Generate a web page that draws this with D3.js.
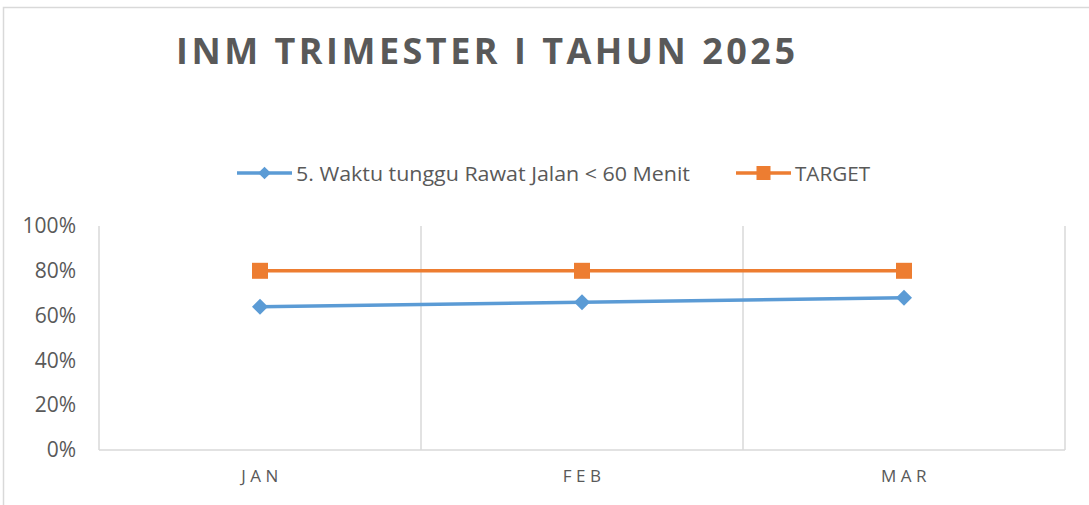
<!DOCTYPE html>
<html><head><meta charset="utf-8">
<script src="https://cdn.jsdelivr.net/npm/d3@7/dist/d3.min.js"></script>
<style>body{margin:0;background:#fff;} svg{display:block;}</style>
</head><body>
<svg id="chart" width="1089" height="505"></svg>
<script>
const title = "INM TRIMESTER I TAHUN 2025";
const categories = ["JAN", "FEB", "MAR"];
const seriesName = "5. Waktu tunggu Rawat Jalan < 60 Menit";
const seriesValues = [0.64, 0.66, 0.68];
const targetName = "TARGET";
const targetValues = [0.80, 0.80, 0.80];
const yTicks = [0, 0.2, 0.4, 0.6, 0.8, 1.0];

const svg = d3.select("#chart");
const W = 1089, H = 505;
const margin = {left: 99, right: 24, top: 226, bottom: 55};
const blue = "#5B9BD5", orange = "#ED7D31", txt = "#595959", grid = "#D9D9D9";
const font = "'Open Sans', sans-serif";

svg.append("rect").attr("x", 3.5).attr("y", 7.5).attr("width", W + 10).attr("height", H + 10)
  .attr("fill", "#fff").attr("stroke", grid).attr("stroke-width", 1.5);

const x = d3.scaleBand().domain(categories).range([margin.left, W - margin.right]).padding(0);
const y = d3.scaleLinear().domain([0, 1]).range([H - margin.bottom, margin.top]);

// vertical category gridlines
const bounds = [margin.left].concat(categories.map(c => x(c) + x.bandwidth()));
svg.append("g").selectAll("line").data(bounds).join("line")
  .attr("x1", d => d).attr("x2", d => d).attr("y1", y(1)).attr("y2", y(0))
  .attr("stroke", grid).attr("stroke-width", 1.5);

// x axis baseline
svg.append("line").attr("x1", margin.left).attr("x2", W - margin.right)
  .attr("y1", y(0)).attr("y2", y(0)).attr("stroke", grid).attr("stroke-width", 1.5);

// y axis
const yAxis = d3.axisLeft(y).tickValues(yTicks).tickFormat(d3.format(".0%")).tickSize(0).tickPadding(23);
const yg = svg.append("g").attr("transform", `translate(${margin.left},0)`).call(yAxis);
yg.select(".domain").remove();
yg.selectAll("text").attr("fill", txt).style("font-family", font).style("font-size", "21px");

// x axis labels
const xAxis = d3.axisBottom(x).tickSize(0).tickPadding(20);
const xg = svg.append("g").attr("transform", `translate(0,${y(0)})`).call(xAxis);
xg.select(".domain").remove();
xg.selectAll("text").attr("fill", txt).style("font-family", font).style("font-size", "17px")
  .style("letter-spacing", "4.5px").attr("dx", "2");

// title
svg.append("text").attr("x", 176).attr("y", 64).text(title)
  .attr("fill", txt).style("font-family", font).style("font-weight", "bold").style("font-size", "36px")
  .attr("textLength", 619).attr("lengthAdjust", "spacing");

const cx = d => x(d) + x.bandwidth() / 2;
const line = d3.line().x((d, i) => cx(categories[i])).y(d => y(d));

function drawSeries(vals, color, shape) {
  svg.append("path").datum(vals).attr("d", line).attr("fill", "none")
    .attr("stroke", color).attr("stroke-width", 3.5).attr("stroke-linecap", "round");
  const sym = d3.symbol().type(shape).size(shape === d3.symbolSquare ? 256 : 190);
  svg.append("g").selectAll("path").data(vals).join("path")
    .attr("transform", (d, i) => `translate(${cx(categories[i])},${y(d)})` + (shape === d3.symbolSquare ? "" : " rotate(45)"))
    .attr("d", shape === d3.symbolSquare ? sym() : d3.symbol().type(d3.symbolSquare).size(128)())
    .attr("fill", color);
}
drawSeries(targetValues, orange, d3.symbolSquare);
drawSeries(seriesValues, blue, d3.symbolDiamond);

// legend
const legend = [
  {name: seriesName, color: blue, shape: "diamond", x0: 237, w: 394},
  {name: targetName, color: orange, shape: "square", x0: 736, w: 75}
];
const ly = 173;
legend.forEach(l => {
  const g = svg.append("g");
  g.append("line").attr("x1", l.x0).attr("x2", l.x0 + 55).attr("y1", ly).attr("y2", ly)
    .attr("stroke", l.color).attr("stroke-width", 3.5);
  if (l.shape === "square") {
    g.append("rect").attr("x", l.x0 + 27.5 - 7).attr("y", ly - 7).attr("width", 14).attr("height", 14).attr("fill", l.color);
  } else {
    g.append("path").attr("transform", `translate(${l.x0 + 27.5},${ly}) rotate(45)`)
      .attr("d", d3.symbol().type(d3.symbolSquare).size(80)()).attr("fill", l.color);
  }
  g.append("text").attr("x", l.x0 + 59).attr("y", ly + 7.5).text(l.name)
    .attr("fill", txt).style("font-family", font).style("font-size", "20.5px")
    .attr("textLength", l.w).attr("lengthAdjust", "spacingAndGlyphs");
});
</script>
</body></html>
